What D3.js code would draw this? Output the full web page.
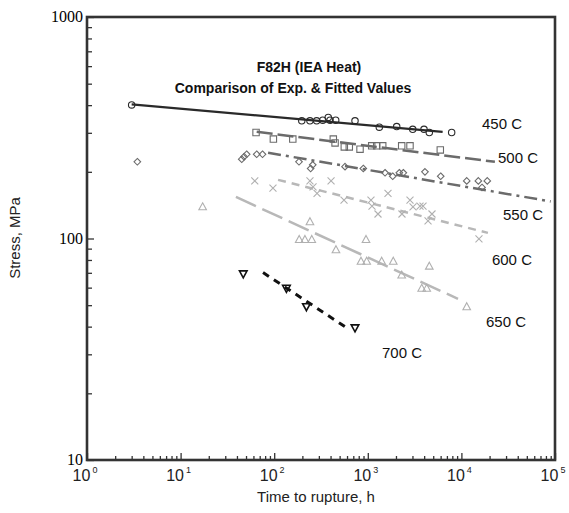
<!DOCTYPE html>
<html>
<head>
<meta charset="utf-8">
<script src="https://cdn.jsdelivr.net/npm/d3@7"></script>
<style>
  body { margin: 0; background: #fff; }
  svg text { font-family: "Liberation Sans", Arial, sans-serif; }
</style>
</head>
<body>
<svg id="chart" width="569" height="513"></svg>
<script>
// experimental points [time h, stress MPa]
const exp450 = [[3.0,401],[197,340],[241,340],[284,340],[330,342],[378,352],[395,342],[454,342],[730,340],[1327,318],[2036,320],[3020,311],[3985,311],[4540,301],[7870,301]];
const exp500 = [[64,301],[98,281],[158,281],[428,281],[447,270],[561,259],[634,259],[826,253],[1101,262],[1245,262],[1443,262],[2302,262],[2824,262],[5950,251]];
const exp550 = [[3.45,222],[45,228],[47.6,234],[50.8,240],[65,240],[75,240],[184,222],[245,207],[258,215],[571,211],[895,207],[1528,198],[1846,191],[2171,198],[2395,198],[4080,200],[6010,191],[11400,182],[15170,182],[18900,182],[16600,170]];
const exp600 = [[62,182],[97,169],[241,182],[260,171],[287,160],[405,182],[557,149],[1081,149],[1109,140],[1285,129],[1643,160],[2318,129],[2824,149],[3040,139],[3612,140],[3890,140],[4400,120],[4850,129],[15400,99.5]];
const exp650 = [[17.2,139],[241,119],[185,99],[213,99],[252,99],[457,89],[957,99],[846,79],[973,79],[1407,79],[1871,79],[4540,75],[2302,68.4],[3767,59.6],[4260,59.6],[11400,49.2]];
const exp700 = [[46.7,69.2],[135,59.6],[221,49.2],[730,39.5]];

// fitted curves [time h, stress MPa]
const fit450 = [[3,403],[6300,303]];
const fit500 = [[65,303],[22800,222]];
const fit550 = [[86,244],[90000,147]];
const fit600 = [[110,184],[19200,106]];
const fit650 = [[39,154],[9200,53.4]];
const fit700 = [[76,70.2],[595,39.5]];

const tempLabels = ['450 C','500 C','550 C','600 C','650 C','700 C'];
const labelAt = [[16600,312],[24600,219],[27800,121],[21200,76],[18300,39.8],[1418,29]];

const xTicks = [1,10,100,1000,10000,100000];
const yTicks = [10,100,1000];

const series = [
  {exp: exp450, fit: fit450, sym: 'circle', col: '#2a2a2a', line: '#2a2a2a', w: 2.3, dash: null},
  {exp: exp500, fit: fit500, sym: 'square', col: '#6b6b6b', line: '#6b6b6b', w: 2.5, dash: '16,5'},
  {exp: exp550, fit: fit550, sym: 'diamond', col: '#6b6b6b', line: '#6b6b6b', w: 2.5, dash: '13,5,3,5'},
  {exp: exp600, fit: fit600, sym: 'cross', col: '#b0b0b0', line: '#b8b8b8', w: 2.5, dash: '8,6'},
  {exp: exp650, fit: fit650, sym: 'up', col: '#b0b0b0', line: '#b8b8b8', w: 2.5, dash: '22,7'},
  {exp: exp700, fit: fit700, sym: 'down', col: '#111', line: '#111', w: 3, dash: '7,6'}
];

const mLeft = 87, mRight = 555, mTop = 17, mBottom = 460;
const svg = d3.select('#chart');
const x = d3.scaleLog().domain([1, 1e5]).range([mLeft, mRight]);
const y = d3.scaleLog().domain([10, 1000]).range([mBottom, mTop]);

// minor + major ticks
const minorX = [], minorY = [];
for (let d = 1; d < 1e5; d *= 10) for (let k = 2; k < 10; k++) minorX.push(d * k);
for (let d = 10; d < 1000; d *= 10) for (let k = 2; k < 10; k++) minorY.push(d * k);

const tickCol = '#333';
svg.append('g').attr('transform', `translate(0,${mBottom})`)
  .call(d3.axisBottom(x).tickValues(minorX).tickSize(-4).tickFormat(''));
svg.append('g').attr('transform', `translate(0,${mBottom})`)
  .call(d3.axisBottom(x).tickValues(xTicks).tickSize(-7).tickFormat(''));
svg.append('g').attr('transform', `translate(${mLeft},0)`)
  .call(d3.axisLeft(y).tickValues(minorY).tickSize(-5).tickFormat(''));
svg.append('g').attr('transform', `translate(${mLeft},0)`)
  .call(d3.axisLeft(y).tickValues(yTicks).tickSize(-7).tickFormat(''));
svg.selectAll('.domain').remove();
svg.selectAll('.tick line').attr('stroke', tickCol).attr('stroke-width', 1.3);

// frame
svg.append('rect').attr('x', mLeft).attr('y', mTop)
  .attr('width', mRight - mLeft).attr('height', mBottom - mTop)
  .attr('fill', 'none').attr('stroke', '#333').attr('stroke-width', 2.6);

// y tick labels (serif)
svg.selectAll('text.ylab').data(yTicks).join('text').attr('class', 'ylab')
  .attr('x', mLeft - 4).attr('y', d => y(d) + 5)
  .attr('text-anchor', 'end')
  .style('font-family', '"Liberation Serif", "Times New Roman", serif')
  .style('font-size', '16px').text(d => d);

// x tick labels 10^n
const xl = svg.selectAll('text.xlab').data(xTicks).join('text').attr('class', 'xlab')
  .attr('x', d => x(d) - 2).attr('y', 481)
  .attr('text-anchor', 'middle').style('font-size', '16px').attr('fill', '#222');
xl.append('tspan').text('10');
xl.append('tspan').attr('dx', 2).attr('dy', -8).style('font-size', '9px').text(d => Math.round(Math.log10(d)));

// axis titles
svg.append('text').attr('x', 316).attr('y', 502).attr('text-anchor', 'middle')
  .style('font-size', '15px').attr('fill', '#222').text('Time to rupture, h');
svg.append('text').attr('transform', 'translate(20,238) rotate(-90)').attr('text-anchor', 'middle')
  .style('font-size', '15px').attr('fill', '#222').text('Stress, MPa');

// title
svg.append('text').attr('x', 309).attr('y', 72).attr('text-anchor', 'middle')
  .style('font-size', '14px').style('font-weight', 'bold').attr('fill', '#111').text('F82H (IEA Heat)');
svg.append('text').attr('x', 293).attr('y', 93).attr('text-anchor', 'middle')
  .style('font-size', '14px').style('font-weight', 'bold').attr('fill', '#111').text('Comparison of Exp. & Fitted Values');

function symPath(kind) {
  switch (kind) {
    case 'circle': return 'M3.2,0A3.2,3.2 0 1,1 -3.2,0A3.2,3.2 0 1,1 3.2,0Z';
    case 'square': return 'M-3.2,-3.2H3.2V3.2H-3.2Z';
    case 'diamond': return 'M0,-3.3L3.3,0L0,3.3L-3.3,0Z';
    case 'cross': return 'M-3.5,-3.5L3.5,3.5M3.5,-3.5L-3.5,3.5';
    case 'up': return 'M0,-4L3.8,3L-3.8,3Z';
    case 'down': return 'M0,4L3.8,-3L-3.8,-3Z';
  }
}

const line = d3.line().x(d => x(d[0])).y(d => y(d[1]));
const plot = svg.append('g');

series.forEach((s, i) => {
  plot.append('path').datum(s.fit).attr('d', line)
    .attr('fill', 'none').attr('stroke', s.line).attr('stroke-width', s.w)
    .attr('stroke-dasharray', s.dash);
  plot.append('g').selectAll('path').data(s.exp).join('path')
    .attr('transform', d => `translate(${x(d[0])},${y(d[1])})`)
    .attr('d', symPath(s.sym))
    .attr('fill', 'none')
    .attr('stroke', s.col).attr('stroke-width', s.sym === 'down' ? 1.6 : 1.1);
  svg.append('text').attr('x', x(labelAt[i][0])).attr('y', y(labelAt[i][1]))
    .style('font-size', '15px').attr('fill', '#111').text(tempLabels[i]);
});
</script>
</body>
</html>
